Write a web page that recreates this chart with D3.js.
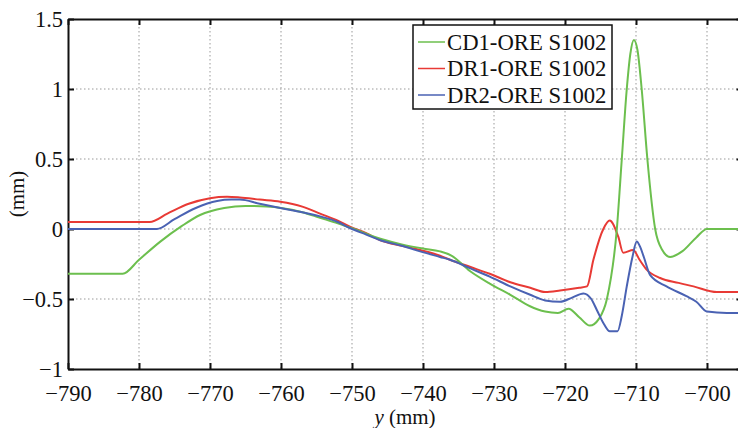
<!DOCTYPE html>
<html>
<head>
<meta charset="utf-8">
<script src="https://cdn.jsdelivr.net/npm/d3@7"></script>
<style>
  body { margin: 0; background: #fff; }
  svg text { font-family: 'Liberation Serif', serif !important; fill: #111; }
  .grid line { stroke: #999; stroke-width: 1; stroke-dasharray: 1.5,2.5; }
  .axis path, .axis line { stroke: #111; }
</style>
</head>
<body>
<div id="graph"></div>
<script>

// series names and colours
var seriesNames = ["CD1-ORE S1002", "DR1-ORE S1002", "DR2-ORE S1002"];
var seriesColors = ["#6cbf4e", "#e83a35", "#4a62b3"];

// CD1 (green)
var cd1X = [-790, -782.3, -780, -777, -774, -771.4, -768, -765, -762, -760, -757, -754.5, -752, -750, -746, -743, -740, -737.6, -736, -733.4, -730.6, -727.7, -725, -722.8, -721, -719.5, -718, -716.5, -715.2, -714.1, -712.7, -712.0, -711.3, -710.8, -710.3, -709.8, -709.2, -708.4, -707.3, -706.3, -705.2, -703.5, -701.5, -700, -695];
var cd1Y = [-0.32, -0.32, -0.22, -0.09, 0.02, 0.10, 0.15, 0.165, 0.16, 0.15, 0.12, 0.08, 0.04, 0.005, -0.07, -0.11, -0.14, -0.16, -0.19, -0.30, -0.39, -0.47, -0.55, -0.59, -0.60, -0.57, -0.63, -0.69, -0.64, -0.50, 0, 0.5, 1.0, 1.25, 1.35, 1.28, 1.0, 0.5, 0, -0.15, -0.20, -0.16, -0.06, 0, 0];

// DR1 (red)
var dr1X = [-790, -778.5, -776, -773, -770, -767.6, -765.8, -763, -760.1, -757, -754.5, -752, -750.3, -748, -746, -743, -740.4, -737.6, -736.2, -733.4, -730.6, -727.7, -724.9, -722.8, -720.7, -718, -716.9, -716.0, -714.6, -713.7, -712.5, -711.8, -710.4, -709.5, -708.5, -706.6, -704, -701.9, -698.6, -695];
var dr1Y = [0.05, 0.05, 0.11, 0.18, 0.22, 0.23, 0.225, 0.21, 0.195, 0.16, 0.11, 0.06, 0.017, -0.03, -0.08, -0.12, -0.15, -0.19, -0.22, -0.27, -0.32, -0.38, -0.42, -0.45, -0.44, -0.42, -0.41, -0.22, 0, 0.06, -0.055, -0.17, -0.15, -0.22, -0.29, -0.35, -0.385, -0.41, -0.45, -0.45];

// DR2 (blue)
var dr2X = [-790, -777.5, -775, -772, -769, -767, -765.8, -763, -760.1, -757, -754.5, -752, -750.3, -748, -746, -743, -740.4, -737.6, -736.2, -733.4, -730.6, -727.7, -724.9, -722.8, -720.7, -719, -717.4, -716.3, -715.5, -714.5, -713.7, -712.6, -712.0, -711.3, -710.5, -709.9, -709.4, -708.9, -708.0, -705.7, -702.9, -701.5, -700, -697.2, -695];
var dr2Y = [0, 0, 0.07, 0.15, 0.20, 0.21, 0.21, 0.18, 0.15, 0.12, 0.09, 0.05, 0.007, -0.04, -0.08, -0.12, -0.16, -0.2, -0.22, -0.28, -0.34, -0.41, -0.47, -0.51, -0.52, -0.49, -0.46, -0.50, -0.58, -0.68, -0.73, -0.73, -0.62, -0.41, -0.20, -0.09, -0.13, -0.20, -0.33, -0.41, -0.48, -0.52, -0.59, -0.6, -0.6];

// ticks
var xTicks = [-790, -780, -770, -760, -750, -740, -730, -720, -710, -700];
var yTicks = [-1, -0.5, 0, 0.5, 1, 1.5];

function drawGraph(){

    var W = 738, H = 428;
    var left = 68, top = 19, right = 742.5, bottom = 369;

    var svg = d3.select("#graph").append("svg")
        .attr("width", W)
        .attr("height", H)
        .attr("font-family", "Liberation Serif");

    // Set X
    var xScale = d3.scaleLinear()
        .domain([-790, -695])
        .range([left, right]);

    // Set Y
    var yScale = d3.scaleLinear()
        .domain([-1, 1.5])
        .range([bottom, top]);

    // grid
    var grid = svg.append("g").attr("class", "grid");
    grid.selectAll(".gx")
        .data(xTicks.slice(1))
        .enter().append("line")
        .attr("x1", function(d){ return xScale(d); })
        .attr("x2", function(d){ return xScale(d); })
        .attr("y1", top)
        .attr("y2", bottom);
    grid.selectAll(".gy")
        .data(yTicks.slice(1, -1))
        .enter().append("line")
        .attr("x1", left)
        .attr("x2", right)
        .attr("y1", function(d){ return yScale(d); })
        .attr("y2", function(d){ return yScale(d); });

    var fmt = d3.format("");

    // axes, ticks pointing inward
    svg.append("g")
        .attr("class", "axis")
        .attr("transform", "translate(0," + bottom + ")")
        .call(d3.axisBottom(xScale).tickValues(xTicks).tickSizeInner(-6).tickSizeOuter(0).tickPadding(16).tickFormat(fmt))
        .call(function(g){ g.attr("font-family", null); g.selectAll("text").attr("font-size", 22.5); });

    svg.append("g")
        .attr("class", "axis")
        .attr("transform", "translate(0," + top + ")")
        .call(d3.axisTop(xScale).tickValues(xTicks).tickSizeInner(-6).tickSizeOuter(0).tickFormat(""));

    svg.append("g")
        .attr("class", "axis")
        .attr("transform", "translate(" + left + ",0)")
        .call(d3.axisLeft(yScale).tickValues(yTicks).tickSizeInner(-6).tickSizeOuter(0).tickPadding(5).tickFormat(fmt))
        .call(function(g){ g.attr("font-family", null); g.selectAll("text").attr("font-size", 22.5); });

    svg.append("g")
        .attr("class", "axis")
        .attr("transform", "translate(" + right + ",0)")
        .call(d3.axisRight(yScale).tickValues(yTicks).tickSizeInner(-6).tickSizeOuter(0).tickFormat(""));

    svg.selectAll(".axis path").attr("stroke-width", 2);
    svg.selectAll(".axis line").attr("stroke-width", 2);

    // lines
    var all = [[cd1X, cd1Y], [dr1X, dr1Y], [dr2X, dr2Y]];
    var line = d3.line()
        .x(function(d){ return xScale(d[0]); })
        .y(function(d){ return yScale(d[1]); })
        .curve(d3.curveMonotoneX);

    [1, 0, 2].forEach(function(i){
        var pts = all[i][0].map(function(x, k){ return [x, all[i][1][k]]; });
        svg.append("path")
            .datum(pts)
            .attr("fill", "none")
            .attr("stroke", seriesColors[i])
            .attr("stroke-width", 2)
            .attr("d", line);
    });

    // legend
    var lg = svg.append("g").attr("transform", "translate(413,25)");
    lg.append("rect")
        .attr("width", 199)
        .attr("height", 84)
        .attr("fill", "#fff")
        .attr("stroke", "#111")
        .attr("stroke-width", 1.5);
    seriesNames.forEach(function(name, i){
        var yy = 17 + i * 26.5;
        lg.append("line")
            .attr("x1", 5).attr("x2", 32)
            .attr("y1", yy).attr("y2", yy)
            .attr("stroke", seriesColors[i])
            .attr("stroke-width", 1.5);
        lg.append("text")
            .attr("x", 34)
            .attr("y", yy + 7.5)
            .attr("font-size", 22.7)
            .text(name);
    });

    // axis labels
    var xl = svg.append("text")
        .attr("x", 405)
        .attr("y", 424)
        .attr("text-anchor", "middle")
        .attr("font-size", 21);
    xl.append("tspan").attr("font-style", "italic").text("y");
    xl.append("tspan").text(" (mm)");

    svg.append("text")
        .attr("transform", "translate(24,194) rotate(-90)")
        .attr("text-anchor", "middle")
        .attr("font-size", 21)
        .text("(mm)");
}

drawGraph();
</script>
</body>
</html>
